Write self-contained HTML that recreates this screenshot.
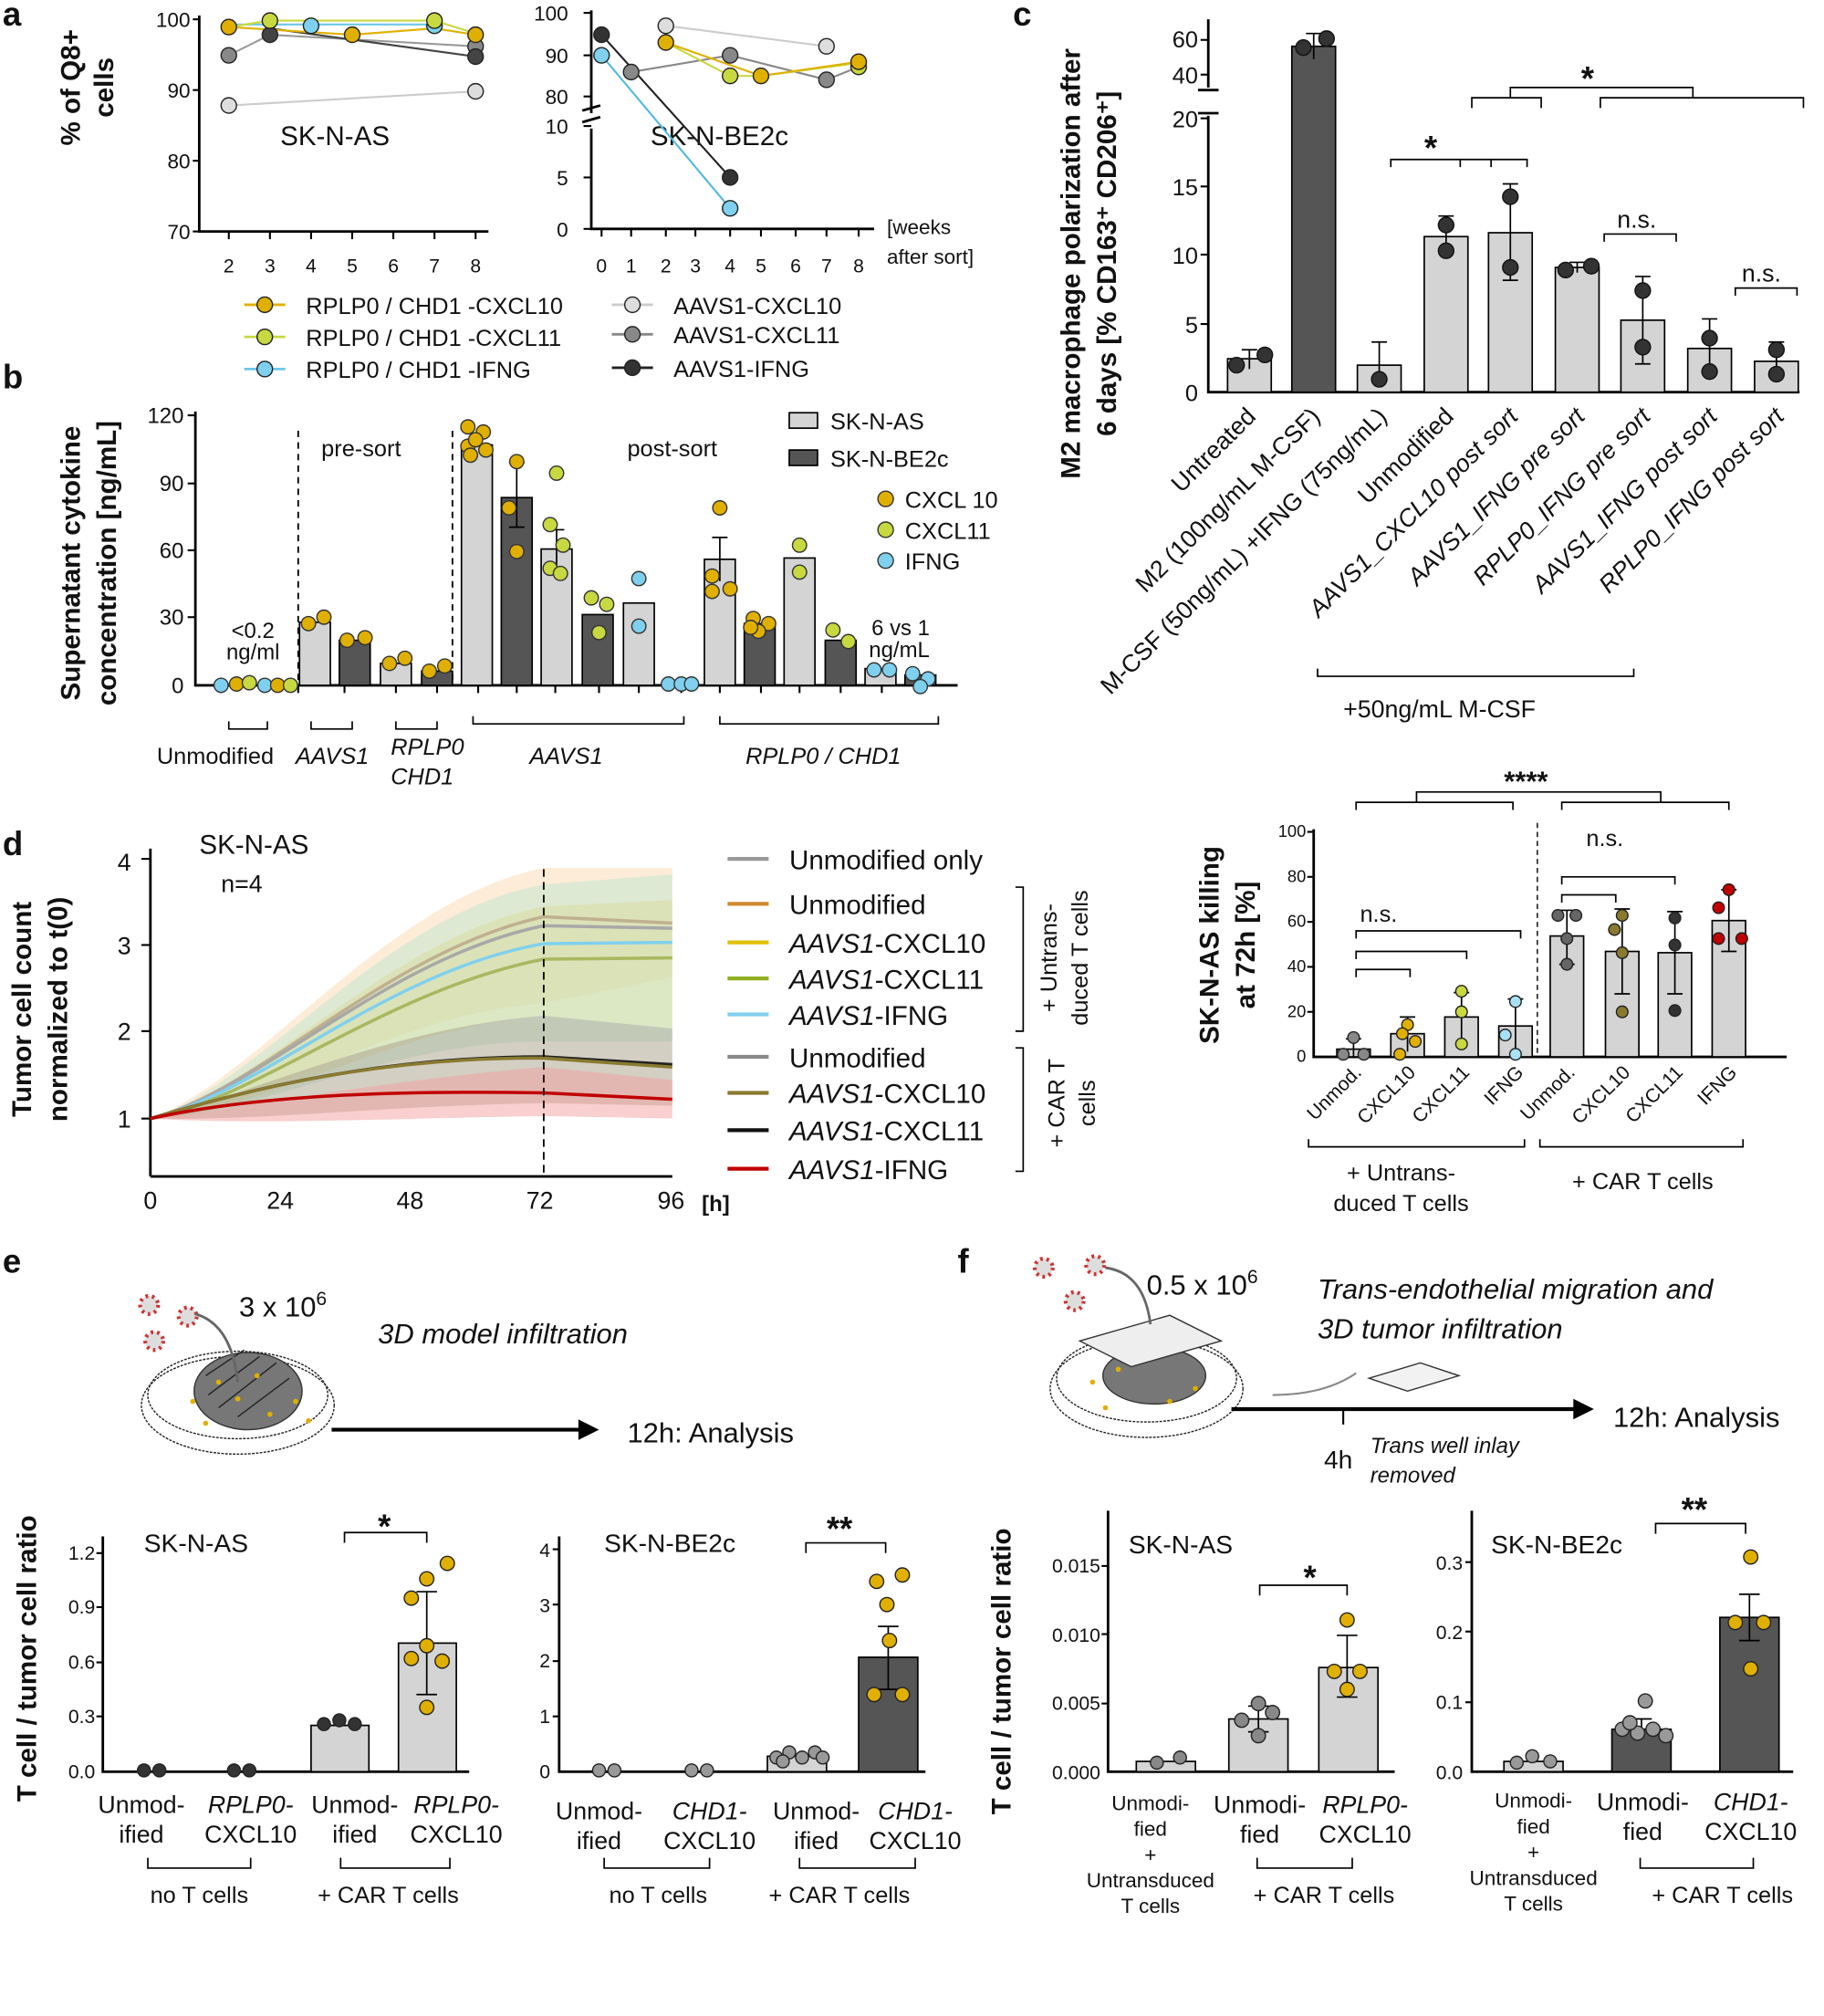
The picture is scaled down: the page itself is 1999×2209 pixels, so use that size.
<!DOCTYPE html>
<html><head><meta charset="utf-8"><style>
html,body{margin:0;padding:0;background:#fff}
svg{display:block}
text{font-family:"Liberation Sans Narrow","Liberation Sans",sans-serif;fill:#111}
.b{font-weight:bold;font-family:"Liberation Sans",sans-serif}
.ax{stroke:#000;stroke-width:2;fill:none}
.tk{stroke:#000;stroke-width:1.5}
.bar{fill:#d4d4d4;stroke:#000;stroke-width:1.2}
.dbar{fill:#555;stroke:#000;stroke-width:1.2}
.er{stroke:#000;stroke-width:1.2;fill:none}
.br{stroke:#000;stroke-width:1.2;fill:none}
</style></head><body>
<svg width="1999" height="2209" viewBox="0 0 1419 1568" xmlns="http://www.w3.org/2000/svg">
<!-- panel letters -->
<text x="2" y="20" class="b" font-size="26">a</text>
<text x="2" y="302" class="b" font-size="26">b</text>
<text x="788" y="20" class="b" font-size="26">c</text>
<text x="2" y="665" class="b" font-size="26">d</text>
<text x="2" y="990" class="b" font-size="26">e</text>
<text x="745" y="990" class="b" font-size="26">f</text>

<!-- ===== a left ===== -->
<text class="b" font-size="21" transform="translate(62,68) rotate(-90)" text-anchor="middle">% of Q8+</text>
<text class="b" font-size="21" transform="translate(88,68) rotate(-90)" text-anchor="middle">cells</text>
<path class="ax" d="M155 12 V180 H380"/>
<g font-size="16" text-anchor="end"><text x="148" y="21">100</text><text x="148" y="76">90</text><text x="148" y="131">80</text><text x="148" y="186">70</text></g>
<g class="tk"><line x1="150" y1="15" x2="155" y2="15"/><line x1="150" y1="70" x2="155" y2="70"/><line x1="150" y1="125" x2="155" y2="125"/><line x1="150" y1="180" x2="155" y2="180"/></g>
<g font-size="15" text-anchor="middle"><text x="178" y="212">2</text><text x="210" y="212">3</text><text x="242" y="212">4</text><text x="274" y="212">5</text><text x="306" y="212">6</text><text x="338" y="212">7</text><text x="370" y="212">8</text></g>
<g class="tk"><line x1="178" y1="180" x2="178" y2="186"/><line x1="210" y1="180" x2="210" y2="186"/><line x1="242" y1="180" x2="242" y2="186"/><line x1="274" y1="180" x2="274" y2="186"/><line x1="306" y1="180" x2="306" y2="186"/><line x1="338" y1="180" x2="338" y2="186"/><line x1="370" y1="180" x2="370" y2="186"/></g>
<text x="218" y="113" font-size="21">SK-N-AS</text>
<g stroke-width="1.5" fill="none">
<polyline points="178,82 370,71" stroke="#ccc"/>
<polyline points="178,43 210,27 370,36" stroke="#999"/>
<polyline points="210,22 370,44" stroke="#444"/>
<polyline points="178,19 338,19" stroke="#6cc8e8"/>
<polyline points="178,21 210,16 338,16 370,26" stroke="#c8d840"/>
<polyline points="178,21 274,27 338,22 370,27" stroke="#e0b000"/>
</g>
<g stroke="#222" stroke-width="1">
<circle cx="178" cy="82" r="6" fill="#ddd"/><circle cx="370" cy="71" r="6" fill="#ddd"/>
<circle cx="178" cy="43" r="6" fill="#888"/><circle cx="370" cy="36" r="6" fill="#888"/>
<circle cx="210" cy="27" r="6" fill="#444"/><circle cx="370" cy="44" r="6" fill="#444"/>
<circle cx="242" cy="20" r="6" fill="#7fd0ef"/><circle cx="338" cy="20" r="6" fill="#7fd0ef"/>
<circle cx="210" cy="16" r="6" fill="#c8d840"/><circle cx="338" cy="16" r="6" fill="#c8d840"/>
<circle cx="178" cy="21" r="6" fill="#e0b000"/><circle cx="274" cy="27" r="6" fill="#e0b000"/><circle cx="370" cy="27" r="6" fill="#e0b000"/>
</g>
<!-- a right -->
<path class="ax" d="M460 8 V88 M460 100 V178 H680"/>
<path d="M453 86 l14 -4 M453 95 l14 -4" stroke="#000" stroke-width="2"/>
<g font-size="16" text-anchor="end"><text x="442" y="16">100</text><text x="442" y="49">90</text><text x="442" y="81">80</text><text x="442" y="104">10</text><text x="442" y="144">5</text><text x="442" y="184">0</text></g>
<g class="tk"><line x1="454" y1="10" x2="460" y2="10"/><line x1="454" y1="43" x2="460" y2="43"/><line x1="454" y1="75" x2="460" y2="75"/><line x1="454" y1="98" x2="460" y2="98"/><line x1="454" y1="138" x2="460" y2="138"/><line x1="454" y1="178" x2="460" y2="178"/></g>
<g font-size="15" text-anchor="middle"><text x="468" y="212">0</text><text x="491" y="212">1</text><text x="518" y="212">2</text><text x="541" y="212">3</text><text x="568" y="212">4</text><text x="592" y="212">5</text><text x="619" y="212">6</text><text x="643" y="212">7</text><text x="668" y="212">8</text></g>
<g class="tk"><line x1="468" y1="178" x2="468" y2="184"/><line x1="491" y1="178" x2="491" y2="184"/><line x1="518" y1="178" x2="518" y2="184"/><line x1="541" y1="178" x2="541" y2="184"/><line x1="568" y1="178" x2="568" y2="184"/><line x1="592" y1="178" x2="592" y2="184"/><line x1="619" y1="178" x2="619" y2="184"/><line x1="643" y1="178" x2="643" y2="184"/><line x1="668" y1="178" x2="668" y2="184"/></g>
<text x="690" y="182" font-size="16">[weeks</text><text x="690" y="205" font-size="16">after sort]</text>
<text x="506" y="113" font-size="21">SK-N-BE2c</text>
<g stroke-width="1.5" fill="none">
<polyline points="518,20 643,36" stroke="#ccc"/>
<polyline points="491,56 568,43 643,62 668,52" stroke="#888"/>
<polyline points="468,27 568,138" stroke="#222"/>
<polyline points="468,43 568,162" stroke="#50b8e0"/>
<polyline points="518,33 568,59 592,59 668,49" stroke="#c8d840"/>
<polyline points="518,33 592,59 668,48" stroke="#e0b000"/>
</g>
<g stroke="#222" stroke-width="1">
<circle cx="518" cy="20" r="6" fill="#ddd"/><circle cx="643" cy="36" r="6" fill="#ddd"/>
<circle cx="491" cy="56" r="6" fill="#888"/><circle cx="568" cy="43" r="6" fill="#888"/><circle cx="643" cy="62" r="6" fill="#888"/>
<circle cx="468" cy="27" r="6" fill="#333"/><circle cx="568" cy="138" r="6" fill="#333"/>
<circle cx="468" cy="43" r="6" fill="#7fd0ef"/><circle cx="568" cy="162" r="6" fill="#7fd0ef"/>
<circle cx="568" cy="59" r="6" fill="#c8d840"/><circle cx="668" cy="52" r="6" fill="#c8d840"/>
<circle cx="518" cy="33" r="6" fill="#e0b000"/><circle cx="592" cy="59" r="6" fill="#e0b000"/><circle cx="668" cy="48" r="6" fill="#e0b000"/>
</g>
<!-- a legend -->
<g font-size="18">
<line x1="190" y1="237" x2="222" y2="237" stroke="#e0b000" stroke-width="2"/><circle cx="206" cy="237" r="6" fill="#e0b000" stroke="#222"/><text x="238" y="244">RPLP0 / CHD1 -CXCL10</text>
<line x1="190" y1="262" x2="222" y2="262" stroke="#c8d840" stroke-width="2"/><circle cx="206" cy="262" r="6" fill="#c8d840" stroke="#222"/><text x="238" y="269">RPLP0 / CHD1 -CXCL11</text>
<line x1="190" y1="287" x2="222" y2="287" stroke="#6cc8e8" stroke-width="2"/><circle cx="206" cy="287" r="6" fill="#7fd0ef" stroke="#222"/><text x="238" y="294">RPLP0 / CHD1 -IFNG</text>
<line x1="476" y1="237" x2="508" y2="237" stroke="#ccc" stroke-width="2"/><circle cx="492" cy="237" r="6" fill="#ddd" stroke="#222"/><text x="524" y="244">AAVS1-CXCL10</text>
<line x1="476" y1="260" x2="508" y2="260" stroke="#888" stroke-width="2"/><circle cx="492" cy="260" r="6" fill="#888" stroke="#222"/><text x="524" y="267">AAVS1-CXCL11</text>
<line x1="476" y1="286" x2="508" y2="286" stroke="#222" stroke-width="2"/><circle cx="492" cy="286" r="6" fill="#333" stroke="#222"/><text x="524" y="293">AAVS1-IFNG</text>
</g>

<!-- ===== b ===== -->
<text class="b" font-size="21" transform="translate(62,438) rotate(-90)" text-anchor="middle">Supernatant cytokine</text>
<text class="b" font-size="21" transform="translate(90,438) rotate(-90)" text-anchor="middle">concentration [ng/mL]</text>
<path class="ax" d="M152 320 V533 H745"/>
<g font-size="17" text-anchor="end"><text x="143" y="329">120</text><text x="143" y="382">90</text><text x="143" y="434">60</text><text x="143" y="486">30</text><text x="143" y="539">0</text></g>
<g class="tk"><line x1="146" y1="323" x2="152" y2="323"/><line x1="146" y1="376" x2="152" y2="376"/><line x1="146" y1="428" x2="152" y2="428"/><line x1="146" y1="480" x2="152" y2="480"/></g>
<g class="tk"><line x1="172" y1="533" x2="172" y2="539"/><line x1="232" y1="533" x2="232" y2="539"/><line x1="268" y1="533" x2="268" y2="539"/><line x1="308" y1="533" x2="308" y2="539"/><line x1="340" y1="533" x2="340" y2="539"/><line x1="372" y1="533" x2="372" y2="539"/><line x1="402" y1="533" x2="402" y2="539"/><line x1="432" y1="533" x2="432" y2="539"/><line x1="466" y1="533" x2="466" y2="539"/><line x1="497" y1="533" x2="497" y2="539"/><line x1="530" y1="533" x2="530" y2="539"/><line x1="560" y1="533" x2="560" y2="539"/><line x1="592" y1="533" x2="592" y2="539"/><line x1="622" y1="533" x2="622" y2="539"/><line x1="654" y1="533" x2="654" y2="539"/><line x1="686" y1="533" x2="686" y2="539"/><line x1="716" y1="533" x2="716" y2="539"/></g>
<line x1="232" y1="335" x2="232" y2="533" stroke="#000" stroke-dasharray="5,4" stroke-width="1.3"/>
<line x1="352" y1="335" x2="352" y2="533" stroke="#000" stroke-dasharray="5,4" stroke-width="1.3"/>
<text x="250" y="355" font-size="18">pre-sort</text><text x="488" y="355" font-size="18">post-sort</text>
<text x="180" y="496" font-size="17">&lt;0.2</text><text x="176" y="513" font-size="17">ng/ml</text>
<text x="678" y="494" font-size="17">6 vs 1</text><text x="676" y="511" font-size="17">ng/mL</text>
<rect class="bar" x="233" y="484" width="24" height="49"/>
<rect class="dbar" x="264" y="498" width="24" height="35"/>
<rect class="bar" x="296" y="516" width="24" height="17"/>
<rect class="dbar" x="328" y="522" width="24" height="11"/>
<rect class="bar" x="359" y="346" width="24" height="187"/>
<rect class="dbar" x="390" y="387" width="24" height="146"/>
<rect class="bar" x="421" y="427" width="24" height="106"/>
<rect class="dbar" x="453" y="478" width="24" height="55"/>
<rect class="bar" x="485" y="469" width="24" height="64"/>
<rect class="bar" x="548" y="435" width="24" height="98"/>
<rect class="dbar" x="579" y="485" width="24" height="48"/>
<rect class="bar" x="610" y="434" width="24" height="99"/>
<rect class="dbar" x="642" y="498" width="24" height="35"/>
<rect class="bar" x="673" y="520" width="24" height="13"/>
<rect class="dbar" x="704" y="525" width="24" height="8"/>
<g class="er"><path d="M402 360 V410 M396 360 h12 M396 410 h12 M433 412 V440 M427 412 h12 M560 418 V452 M554 418 h12 M560 452 h0"/></g>
<g stroke="#333" stroke-width="1">
<circle cx="172" cy="533" r="5.5" fill="#7fd0ef"/><circle cx="184" cy="532" r="5.5" fill="#e0b000"/><circle cx="194" cy="531" r="5.5" fill="#c8d840"/><circle cx="206" cy="533" r="5.5" fill="#7fd0ef"/><circle cx="216" cy="533" r="5.5" fill="#e0b000"/><circle cx="226" cy="533" r="5.5" fill="#c8d840"/>
<circle cx="240" cy="485" r="5.5" fill="#e0b000"/><circle cx="252" cy="480" r="5.5" fill="#e0b000"/>
<circle cx="270" cy="498" r="5.5" fill="#e0b000"/><circle cx="284" cy="496" r="5.5" fill="#e0b000"/>
<circle cx="303" cy="516" r="5.5" fill="#e0b000"/><circle cx="315" cy="512" r="5.5" fill="#e0b000"/>
<circle cx="334" cy="522" r="5.5" fill="#e0b000"/><circle cx="346" cy="518" r="5.5" fill="#e0b000"/>
<circle cx="364" cy="332" r="5.5" fill="#e0b000"/><circle cx="376" cy="336" r="5.5" fill="#e0b000"/><circle cx="364" cy="347" r="5.5" fill="#e0b000"/><circle cx="378" cy="350" r="5.5" fill="#e0b000"/><circle cx="370" cy="342" r="5.5" fill="#e0b000"/><circle cx="366" cy="354" r="5.5" fill="#e0b000"/>
<circle cx="402" cy="359" r="5.5" fill="#e0b000"/><circle cx="396" cy="395" r="5.5" fill="#e0b000"/><circle cx="402" cy="429" r="5.5" fill="#e0b000"/>
<circle cx="433" cy="368" r="5.5" fill="#c8d840"/><circle cx="428" cy="408" r="5.5" fill="#c8d840"/><circle cx="438" cy="424" r="5.5" fill="#c8d840"/><circle cx="428" cy="442" r="5.5" fill="#c8d840"/><circle cx="436" cy="446" r="5.5" fill="#c8d840"/>
<circle cx="460" cy="465" r="5.5" fill="#c8d840"/><circle cx="472" cy="470" r="5.5" fill="#c8d840"/><circle cx="466" cy="492" r="5.5" fill="#c8d840"/>
<circle cx="497" cy="450" r="5.5" fill="#7fd0ef"/><circle cx="497" cy="487" r="5.5" fill="#7fd0ef"/>
<circle cx="520" cy="532" r="5.5" fill="#7fd0ef"/><circle cx="530" cy="532" r="5.5" fill="#7fd0ef"/><circle cx="538" cy="532" r="5.5" fill="#7fd0ef"/>
<circle cx="560" cy="395" r="5.5" fill="#e0b000"/><circle cx="554" cy="448" r="5.5" fill="#e0b000"/><circle cx="568" cy="458" r="5.5" fill="#e0b000"/><circle cx="554" cy="460" r="5.5" fill="#e0b000"/>
<circle cx="586" cy="481" r="5.5" fill="#e0b000"/><circle cx="598" cy="485" r="5.5" fill="#e0b000"/><circle cx="590" cy="491" r="5.5" fill="#e0b000"/><circle cx="584" cy="488" r="5.5" fill="#e0b000"/>
<circle cx="622" cy="424" r="5.5" fill="#c8d840"/><circle cx="622" cy="445" r="5.5" fill="#c8d840"/>
<circle cx="648" cy="490" r="5.5" fill="#c8d840"/><circle cx="660" cy="499" r="5.5" fill="#c8d840"/>
<circle cx="680" cy="521" r="5.5" fill="#7fd0ef"/><circle cx="692" cy="521" r="5.5" fill="#7fd0ef"/>
<circle cx="710" cy="524" r="5.5" fill="#7fd0ef"/><circle cx="722" cy="528" r="5.5" fill="#7fd0ef"/><circle cx="716" cy="534" r="5.5" fill="#7fd0ef"/>
</g>
<g font-size="18">
<rect x="614" y="321" width="22" height="12" class="bar"/><text x="646" y="334">SK-N-AS</text>
<rect x="614" y="350" width="22" height="12" class="dbar"/><text x="646" y="363">SK-N-BE2c</text>
<circle cx="689" cy="388" r="6" fill="#e0b000" stroke="#333"/><text x="704" y="395">CXCL 10</text>
<circle cx="689" cy="412" r="6" fill="#c8d840" stroke="#333"/><text x="704" y="419">CXCL11</text>
<circle cx="689" cy="436" r="6" fill="#7fd0ef" stroke="#333"/><text x="704" y="443">IFNG</text>
</g>
<g class="br"><path d="M178 561 v6 h30 v-6 M242 561 v6 h32 v-6 M308 561 v6 h32 v-6 M368 557 v6 h164 v-6 M560 557 v6 h170 v-6"/></g>
<g font-size="18"><text x="122" y="594">Unmodified</text><text x="230" y="594" font-style="italic">AAVS1</text><text x="304" y="587" font-style="italic">RPLP0</text><text x="304" y="610" font-style="italic">CHD1</text><text x="412" y="594" font-style="italic">AAVS1</text><text x="580" y="594" font-style="italic">RPLP0 / CHD1</text></g>

<!-- ===== c ===== -->
<text class="b" font-size="21" transform="translate(840,205) rotate(-90)" text-anchor="middle">M2 macrophage polarization after</text>
<text class="b" font-size="21" transform="translate(868,205) rotate(-90)" text-anchor="middle">6 days [% CD163⁺ CD206⁺]</text>
<path class="ax" d="M940 15 V68 M940 90 V305 H1400"/>
<path d="M932 70 h16 M932 88 h16" stroke="#000" stroke-width="2"/>
<g font-size="18" text-anchor="end"><text x="932" y="37">60</text><text x="932" y="65">40</text><text x="932" y="99">20</text><text x="932" y="152">15</text><text x="932" y="205">10</text><text x="932" y="259">5</text><text x="932" y="312">0</text></g>
<g class="tk"><line x1="934" y1="31" x2="940" y2="31"/><line x1="934" y1="58" x2="940" y2="58"/><line x1="934" y1="92" x2="940" y2="92"/><line x1="934" y1="145" x2="940" y2="145"/><line x1="934" y1="198" x2="940" y2="198"/><line x1="934" y1="252" x2="940" y2="252"/></g>
<rect class="bar" x="955" y="279" width="34" height="26"/>
<rect class="dbar" x="1005" y="36" width="34" height="269"/>
<rect class="bar" x="1056" y="284" width="34" height="21"/>
<rect class="bar" x="1108" y="184" width="34" height="121"/>
<rect class="bar" x="1158" y="181" width="34" height="124"/>
<rect class="bar" x="1210" y="208" width="34" height="97"/>
<rect class="bar" x="1261" y="249" width="34" height="56"/>
<rect class="bar" x="1313" y="271" width="34" height="34"/>
<rect class="bar" x="1365" y="281" width="34" height="24"/>
<g class="er"><path d="M972 272 V287 M966 272 h12 M1022 26 V46 M1016 26 h12 M1073 266 V300 M1067 266 h12 M1125 168 V200 M1119 168 h12 M1175 143 V218 M1169 143 h12 M1169 218 h12 M1227 204 V212 M1221 204 h12 M1278 215 V283 M1272 215 h12 M1272 283 h12 M1330 248 V294 M1324 248 h12 M1382 266 V296 M1376 266 h12"/></g>
<g stroke="#111" fill="#333">
<circle cx="962" cy="284" r="6"/><circle cx="984" cy="276" r="6"/>
<circle cx="1014" cy="37" r="6"/><circle cx="1032" cy="30" r="6"/>
<circle cx="1073" cy="295" r="6"/><circle cx="1073" cy="270"/>
<circle cx="1125" cy="195" r="6"/><circle cx="1125" cy="175" r="6"/>
<circle cx="1175" cy="208" r="6"/><circle cx="1175" cy="153" r="6"/>
<circle cx="1218" cy="210" r="6"/><circle cx="1238" cy="207" r="6"/>
<circle cx="1278" cy="226" r="6"/><circle cx="1278" cy="270" r="6"/>
<circle cx="1330" cy="263" r="6"/><circle cx="1330" cy="289" r="6"/>
<circle cx="1382" cy="272" r="6"/><circle cx="1382" cy="291" r="6"/>
</g>
<g class="br"><path d="M1082 130 v-6 h78 v6 M1136 130 v-6 h52 v6 M1160 124 v0 M1145 84 v-8 h54 v8 M1175 76 v-8 h142 v8 M1245 84 v-8 h158 v8 M1248 188 v-6 h56 v6 M1350 230 v-6 h48 v6 M1025 520 v6 h246 v-6"/></g>
<text x="1108" y="124" font-size="26" class="b">*</text>
<text x="1230" y="70" font-size="26" class="b">*</text>
<text x="1258" y="177" font-size="19">n.s.</text>
<text x="1355" y="219" font-size="19">n.s.</text>
<text x="1045" y="558" font-size="19">+50ng/mL M-CSF</text>
<g font-size="19" text-anchor="end">
<text transform="translate(978,325) rotate(-45)">Untreated</text>
<text transform="translate(1028,325) rotate(-45)">M2 (100ng/mL M-CSF)</text>
<text transform="translate(1080,325) rotate(-45)">M-CSF (50ng/mL) +IFNG (75ng/mL)</text>
<text transform="translate(1132,325) rotate(-45)">Unmodified</text>
<text transform="translate(1182,325) rotate(-45)" font-style="italic">AAVS1_CXCL10 post sort</text>
<text transform="translate(1234,325) rotate(-45)" font-style="italic">AAVS1_IFNG pre sort</text>
<text transform="translate(1285,325) rotate(-45)" font-style="italic">RPLP0_IFNG pre sort</text>
<text transform="translate(1337,325) rotate(-45)" font-style="italic">AAVS1_IFNG post sort</text>
<text transform="translate(1389,325) rotate(-45)" font-style="italic">RPLP0_IFNG post sort</text>
</g>

<!-- ===== d ===== -->
<text class="b" font-size="21" transform="translate(24,785) rotate(-90)" text-anchor="middle">Tumor cell count</text>
<text class="b" font-size="21" transform="translate(52,785) rotate(-90)" text-anchor="middle">normalized to t(0)</text>
<path class="ax" d="M117 660 V915 M117 915 H523"/>
<g font-size="19" text-anchor="end"><text x="102" y="677">4</text><text x="102" y="742">3</text><text x="102" y="809">2</text><text x="102" y="877">1</text></g>
<g class="tk"><line x1="110" y1="668" x2="117" y2="668"/><line x1="110" y1="735" x2="117" y2="735"/><line x1="110" y1="802" x2="117" y2="802"/><line x1="110" y1="870" x2="117" y2="870"/></g>
<g font-size="19" text-anchor="middle"><text x="117" y="940">0</text><text x="218" y="940">24</text><text x="319" y="940">48</text><text x="420" y="940">72</text><text x="522" y="940">96</text></g>
<text x="546" y="942" font-size="17" class="b">[h]</text>
<text x="155" y="664" font-size="21">SK-N-AS</text><text x="172" y="694" font-size="19">n=4</text>
<!-- bands -->
<path d="M117 870 C200 840 300 700 423 675 L523 675 L523 760 L423 780 C300 790 200 865 117 870Z" fill="#fbd9b0" opacity=".5"/>
<path d="M117 870 C200 845 300 710 423 688 L523 680 L523 810 L423 810 C300 810 200 868 117 870Z" fill="#bfe6d0" opacity=".5"/>
<path d="M117 870 C200 850 300 730 423 705 L523 700 L523 800 L423 790 C300 800 200 868 117 870Z" fill="#d8d890" opacity=".4"/>
<path d="M117 870 C200 850 300 800 423 790 L523 800 L523 860 L423 858 C300 860 200 872 117 870Z" fill="#a8a088" opacity=".5"/>
<path d="M117 870 C200 860 300 840 423 830 L523 840 L523 870 L423 868 C300 870 200 875 117 870Z" fill="#f4a0a0" opacity=".5"/>
<g fill="none" stroke-width="2.5">
<path d="M117 870 C200 850 300 740 423 713 L523 718" stroke="#c0b090"/>
<path d="M117 870 C200 850 300 745 423 720 L523 722" stroke="#a8a8a8"/>
<path d="M117 870 C200 852 300 755 423 734 L523 733" stroke="#80d0ee"/>
<path d="M117 870 C200 855 300 770 423 746 L523 745" stroke="#a8b860"/>
<path d="M117 870 C200 845 300 822 423 822 L523 828" stroke="#222"/>
<path d="M117 870 C200 845 300 822 423 823 L523 830" stroke="#8a7a30"/>
<path d="M117 870 C200 852 300 848 423 850 L523 855" stroke="#c00000"/>
</g>
<line x1="423" y1="676" x2="423" y2="915" stroke="#000" stroke-dasharray="6,4" stroke-width="1.3"/>
<g font-size="21">
<line x1="566" y1="668" x2="598" y2="668" stroke="#999" stroke-width="3"/><text x="614" y="676">Unmodified only</text>
<line x1="566" y1="703" x2="598" y2="703" stroke="#d08830" stroke-width="3"/><text x="614" y="711">Unmodified</text>
<line x1="566" y1="733" x2="598" y2="733" stroke="#e0c000" stroke-width="3"/><text x="614" y="741" font-style="italic">AAVS1<tspan font-style="normal">-CXCL10</tspan></text>
<line x1="566" y1="761" x2="598" y2="761" stroke="#90b020" stroke-width="3"/><text x="614" y="769" font-style="italic">AAVS1<tspan font-style="normal">-CXCL11</tspan></text>
<line x1="566" y1="789" x2="598" y2="789" stroke="#80d0ee" stroke-width="3"/><text x="614" y="797" font-style="italic">AAVS1<tspan font-style="normal">-IFNG</tspan></text>
<line x1="566" y1="822" x2="598" y2="822" stroke="#888" stroke-width="3"/><text x="614" y="830">Unmodified</text>
<line x1="566" y1="850" x2="598" y2="850" stroke="#8a7a30" stroke-width="3"/><text x="614" y="858" font-style="italic">AAVS1<tspan font-style="normal">-CXCL10</tspan></text>
<line x1="566" y1="879" x2="598" y2="879" stroke="#111" stroke-width="3"/><text x="614" y="887" font-style="italic">AAVS1<tspan font-style="normal">-CXCL11</tspan></text>
<line x1="566" y1="909" x2="598" y2="909" stroke="#c00000" stroke-width="3"/><text x="614" y="917" font-style="italic">AAVS1<tspan font-style="normal">-IFNG</tspan></text>
</g>
<path class="br" d="M790 690 h6 v112 h-6 M790 815 h6 v96 h-6"/>
<text font-size="18" text-anchor="middle" transform="translate(822,745) rotate(-90)">+ Untrans-</text>
<text font-size="18" text-anchor="middle" transform="translate(846,745) rotate(-90)">duced T cells</text>
<text font-size="18" text-anchor="middle" transform="translate(828,858) rotate(-90)">+ CAR T</text>
<text font-size="18" text-anchor="middle" transform="translate(852,858) rotate(-90)">cells</text>

<!-- killing -->
<text class="b" font-size="21" transform="translate(948,735) rotate(-90)" text-anchor="middle">SK-N-AS killing</text>
<text class="b" font-size="21" transform="translate(976,735) rotate(-90)" text-anchor="middle">at 72h [%]</text>
<path class="ax" d="M1022 645 V822 H1390"/>
<g font-size="13" text-anchor="end"><text x="1016" y="651">100</text><text x="1016" y="686">80</text><text x="1016" y="721">60</text><text x="1016" y="756">40</text><text x="1016" y="791">20</text><text x="1016" y="826">0</text></g>
<g class="tk"><line x1="1017" y1="647" x2="1022" y2="647"/><line x1="1017" y1="682" x2="1022" y2="682"/><line x1="1017" y1="717" x2="1022" y2="717"/><line x1="1017" y1="752" x2="1022" y2="752"/><line x1="1017" y1="787" x2="1022" y2="787"/></g>
<line x1="1196" y1="640" x2="1196" y2="822" stroke="#000" stroke-dasharray="4,3"/>
<rect class="bar" x="1040" y="816" width="26" height="6"/>
<rect class="bar" x="1082" y="804" width="26" height="18"/>
<rect class="bar" x="1124" y="791" width="26" height="31"/>
<rect class="bar" x="1166" y="798" width="26" height="24"/>
<rect class="bar" x="1206" y="728" width="26" height="94"/>
<rect class="bar" x="1249" y="740" width="26" height="82"/>
<rect class="bar" x="1290" y="741" width="26" height="81"/>
<rect class="bar" x="1332" y="716" width="26" height="106"/>
<g class="er"><path d="M1053 808 V822 M1047 808 h12 M1095 791 V818 M1089 791 h12 M1137 772 V810 M1131 772 h12 M1179 777 V822 M1173 777 h12 M1219 708 V750 M1213 708 h12 M1213 750 h12 M1262 707 V773 M1256 707 h12 M1256 773 h12 M1303 709 V773 M1297 709 h12 M1297 773 h12 M1345 692 V740 M1339 692 h12 M1339 740 h12"/></g>
<g stroke="#222" stroke-width="1">
<circle cx="1045" cy="820" r="4.5" fill="#888"/><circle cx="1053" cy="807" r="4.5" fill="#888"/><circle cx="1061" cy="820" r="4.5" fill="#888"/>
<circle cx="1089" cy="820" r="4.5" fill="#e0b000"/><circle cx="1095" cy="797" r="4.5" fill="#e0b000"/><circle cx="1101" cy="810" r="4.5" fill="#e0b000"/><circle cx="1091" cy="804" r="4.5" fill="#e0b000"/>
<circle cx="1137" cy="771" r="4.5" fill="#c8d840"/><circle cx="1137" cy="787" r="4.5" fill="#c8d840"/><circle cx="1137" cy="812" r="4.5" fill="#c8d840"/>
<circle cx="1179" cy="779" r="4.5" fill="#a8e0f4"/><circle cx="1179" cy="820" r="4.5" fill="#a8e0f4"/><circle cx="1171" cy="805" r="4.5" fill="#a8e0f4"/>
<circle cx="1212" cy="712" r="4.5" fill="#666"/><circle cx="1226" cy="712" r="4.5" fill="#666"/><circle cx="1219" cy="750" r="4.5" fill="#666"/><circle cx="1219" cy="730" r="4.5" fill="#666"/>
<circle cx="1262" cy="712" r="4.5" fill="#8a7a30"/><circle cx="1262" cy="741" r="4.5" fill="#8a7a30"/><circle cx="1262" cy="787" r="4.5" fill="#8a7a30"/><circle cx="1256" cy="723" r="4.5" fill="#8a7a30"/>
<circle cx="1303" cy="714" r="4.5" fill="#333"/><circle cx="1303" cy="735" r="4.5" fill="#333"/><circle cx="1303" cy="786" r="4.5" fill="#333"/>
<circle cx="1345" cy="692" r="4.5" fill="#c00000"/><circle cx="1337" cy="706" r="4.5" fill="#c00000"/><circle cx="1337" cy="730" r="4.5" fill="#c00000"/><circle cx="1355" cy="730" r="4.5" fill="#c00000"/>
</g>
<g class="br"><path d="M1055 630 v-6 h122 v6 M1102 624 v-8 h190 v8 M1215 630 v-6 h130 v6 M1055 730 v-6 h128 v6 M1055 746 v-6 h86 v6 M1055 760 v-6 h42 v6 M1215 688 v-6 h88 v6 M1215 702 v-6 h42 v6 M1018 886 v6 h168 v-6 M1198 886 v6 h158 v-6"/></g>
<text x="1170" y="615" font-size="22" class="b">****</text>
<text x="1058" y="717" font-size="18">n.s.</text>
<text x="1234" y="658" font-size="18">n.s.</text>
<g font-size="15" text-anchor="end">
<text transform="translate(1060,835) rotate(-45)">Unmod.</text><text transform="translate(1102,835) rotate(-45)">CXCL10</text><text transform="translate(1144,835) rotate(-45)">CXCL11</text><text transform="translate(1186,835) rotate(-45)">IFNG</text>
<text transform="translate(1226,835) rotate(-45)">Unmod.</text><text transform="translate(1269,835) rotate(-45)">CXCL10</text><text transform="translate(1310,835) rotate(-45)">CXCL11</text><text transform="translate(1352,835) rotate(-45)">IFNG</text>
</g>
<g font-size="18" text-anchor="middle"><text x="1090" y="918">+ Untrans-</text><text x="1090" y="942">duced T cells</text><text x="1278" y="925">+ CAR T cells</text></g>

<!-- ===== e schematic ===== -->
<g>
<ellipse cx="185" cy="1093" rx="75" ry="38" fill="none" stroke="#222" stroke-dasharray="2,1"/>
<ellipse cx="185" cy="1085" rx="70" ry="34" fill="none" stroke="#222" stroke-dasharray="2,1"/>
<ellipse cx="193" cy="1082" rx="42" ry="30" fill="#777" stroke="#333"/>
<path d="M160 1070 l30 -20 M162 1085 l40 -30 M170 1095 l45 -35 M185 1102 l40 -30" stroke="#222"/>
<g fill="#e0b000"><circle cx="150" cy="1090" r="2"/><circle cx="170" cy="1075" r="2"/><circle cx="200" cy="1070" r="2"/><circle cx="230" cy="1090" r="2"/><circle cx="160" cy="1107" r="2"/><circle cx="210" cy="1100" r="2"/><circle cx="240" cy="1105" r="2"/><circle cx="185" cy="1088" r="2"/></g>
<circle cx="116" cy="1015" r="7" fill="#ddd" stroke="#c33" stroke-dasharray="2,3" stroke-width="3"/>
<circle cx="146" cy="1024" r="7" fill="#ddd" stroke="#c33" stroke-dasharray="2,3" stroke-width="3"/>
<circle cx="120" cy="1043" r="7" fill="#ddd" stroke="#c33" stroke-dasharray="2,3" stroke-width="3"/>
<path d="M152 1022 Q180 1030 185 1075" fill="none" stroke="#666" stroke-width="2"/>
<path d="M258 1112 H455" stroke="#000" stroke-width="3"/><path d="M450 1104 l16 8 l-16 8z" fill="#000"/>
<text x="186" y="1024" font-size="22">3 x 10<tspan font-size="15" dy="-9">6</tspan></text>
<text x="294" y="1045" font-size="22" font-style="italic">3D model infiltration</text>
<text x="488" y="1122" font-size="22">12h: Analysis</text>
</g>
<!-- f schematic -->
<g>
<ellipse cx="892" cy="1080" rx="75" ry="38" fill="none" stroke="#222" stroke-dasharray="2,1"/>
<ellipse cx="892" cy="1072" rx="70" ry="34" fill="none" stroke="#222" stroke-dasharray="2,1"/>
<ellipse cx="898" cy="1070" rx="40" ry="22" fill="#777" stroke="#333"/>
<path d="M840 1043 l70 -20 l40 20 l-70 20z" fill="#eee" stroke="#333"/>
<g fill="#e0b000"><circle cx="850" cy="1075" r="2"/><circle cx="870" cy="1065" r="2"/><circle cx="930" cy="1080" r="2"/><circle cx="860" cy="1095" r="2"/><circle cx="910" cy="1090" r="2"/></g>
<circle cx="812" cy="986" r="7" fill="#ddd" stroke="#c33" stroke-dasharray="2,3" stroke-width="3"/>
<circle cx="852" cy="984" r="7" fill="#ddd" stroke="#c33" stroke-dasharray="2,3" stroke-width="3"/>
<circle cx="836" cy="1012" r="7" fill="#ddd" stroke="#c33" stroke-dasharray="2,3" stroke-width="3"/>
<path d="M860 986 Q890 990 895 1030" fill="none" stroke="#666" stroke-width="2"/>
<path d="M990 1085 Q1030 1085 1055 1068" fill="none" stroke="#888" stroke-width="1.5"/>
<path d="M1065 1072 l40 -12 l30 10 l-40 12z" fill="#f2f2f2" stroke="#333"/>
<path d="M958 1096 H1228" stroke="#000" stroke-width="3"/><path d="M1224 1088 l16 8 l-16 8z" fill="#000"/>
<line x1="1045" y1="1096" x2="1045" y2="1108" stroke="#000" stroke-width="1.5"/>
<text x="892" y="1007" font-size="22">0.5 x 10<tspan font-size="15" dy="-9">6</tspan></text>
<text x="1025" y="1010" font-size="22" font-style="italic">Trans-endothelial migration and</text>
<text x="1025" y="1041" font-size="22" font-style="italic">3D tumor infiltration</text>
<text x="1255" y="1110" font-size="22">12h: Analysis</text>
<text x="1030" y="1142" font-size="20">4h</text>
<text x="1066" y="1130" font-size="17" font-style="italic">Trans well inlay</text>
<text x="1066" y="1153" font-size="17" font-style="italic">removed</text>
</g>

<!-- ===== e charts ===== -->
<text class="b" font-size="21" transform="translate(28,1290) rotate(-90)" text-anchor="middle">T cell / tumor cell ratio</text>
<path class="ax" d="M80 1195 V1378 H365"/>
<g font-size="15" text-anchor="end"><text x="74" y="1213">1.2</text><text x="74" y="1255">0.9</text><text x="74" y="1298">0.6</text><text x="74" y="1340">0.3</text><text x="74" y="1383">0.0</text></g>
<g class="tk"><line x1="75" y1="1208" x2="80" y2="1208"/><line x1="75" y1="1250" x2="80" y2="1250"/><line x1="75" y1="1293" x2="80" y2="1293"/><line x1="75" y1="1335" x2="80" y2="1335"/></g>
<text x="112" y="1207" font-size="20">SK-N-AS</text>
<rect class="bar" x="242" y="1342" width="45" height="36"/>
<rect class="bar" x="310" y="1278" width="45" height="100"/>
<g class="er"><path d="M332 1238 V1318 M324 1238 h16 M324 1318 h16 M252 1342 h26"/></g>
<g stroke="#222" fill="#333"><circle cx="112" cy="1377" r="5"/><circle cx="124" cy="1377" r="5"/><circle cx="182" cy="1377" r="5"/><circle cx="194" cy="1377" r="5"/><circle cx="252" cy="1341" r="5"/><circle cx="264" cy="1338" r="5"/><circle cx="276" cy="1341" r="5"/></g>
<g stroke="#222" fill="#e0b000"><circle cx="332" cy="1228" r="5.5"/><circle cx="348" cy="1216" r="5.5"/><circle cx="320" cy="1243" r="5.5"/><circle cx="332" cy="1280" r="5.5"/><circle cx="320" cy="1290" r="5.5"/><circle cx="344" cy="1292" r="5.5"/><circle cx="332" cy="1328" r="5.5"/></g>
<path class="br" d="M268 1200 v-8 h64 v8"/><text x="294" y="1196" font-size="26" class="b">*</text>
<g font-size="19" text-anchor="middle"><text x="110" y="1410">Unmod-</text><text x="110" y="1433">ified</text><text x="195" y="1410" font-style="italic">RPLP0-</text><text x="195" y="1433">CXCL10</text><text x="276" y="1410">Unmod-</text><text x="276" y="1433">ified</text><text x="355" y="1410" font-style="italic">RPLP0-</text><text x="355" y="1433">CXCL10</text></g>
<path class="br" d="M115 1445 v8 h80 v-8 M265 1445 v8 h85 v-8"/>
<g font-size="18" text-anchor="middle"><text x="155" y="1480">no T cells</text><text x="302" y="1480">+ CAR T cells</text></g>

<path class="ax" d="M435 1195 V1378 H720"/>
<g font-size="15" text-anchor="end"><text x="428" y="1211">4</text><text x="428" y="1254">3</text><text x="428" y="1297">2</text><text x="428" y="1340">1</text><text x="428" y="1383">0</text></g>
<g class="tk"><line x1="430" y1="1205" x2="435" y2="1205"/><line x1="430" y1="1248" x2="435" y2="1248"/><line x1="430" y1="1292" x2="435" y2="1292"/><line x1="430" y1="1335" x2="435" y2="1335"/></g>
<text x="470" y="1207" font-size="20">SK-N-BE2c</text>
<rect class="bar" x="597" y="1366" width="46" height="12"/>
<rect class="dbar" x="668" y="1289" width="46" height="89"/>
<g class="er"><path d="M691 1265 V1314 M683 1265 h16 M683 1314 h16"/></g>
<g stroke="#222" fill="#999"><circle cx="466" cy="1377" r="5"/><circle cx="478" cy="1377" r="5"/><circle cx="538" cy="1377" r="5"/><circle cx="550" cy="1377" r="5"/><circle cx="604" cy="1367" r="5"/><circle cx="614" cy="1363" r="5"/><circle cx="624" cy="1367" r="5"/><circle cx="634" cy="1363" r="5"/><circle cx="640" cy="1367" r="5"/><circle cx="609" cy="1370" r="5"/></g>
<g stroke="#222" fill="#e0b000"><circle cx="682" cy="1230" r="5.5"/><circle cx="702" cy="1225" r="5.5"/><circle cx="690" cy="1248" r="5.5"/><circle cx="692" cy="1276" r="5.5"/><circle cx="680" cy="1318" r="5.5"/><circle cx="702" cy="1318" r="5.5"/></g>
<path class="br" d="M627 1208 v-8 h62 v8"/><text x="643" y="1198" font-size="26" class="b">**</text>
<g font-size="19" text-anchor="middle"><text x="466" y="1415">Unmod-</text><text x="466" y="1438">ified</text><text x="552" y="1415" font-style="italic">CHD1-</text><text x="552" y="1438">CXCL10</text><text x="635" y="1415">Unmod-</text><text x="635" y="1438">ified</text><text x="712" y="1415" font-style="italic">CHD1-</text><text x="712" y="1438">CXCL10</text></g>
<path class="br" d="M470 1445 v8 h82 v-8 M622 1445 v8 h90 v-8"/>
<g font-size="18" text-anchor="middle"><text x="512" y="1480">no T cells</text><text x="653" y="1480">+ CAR T cells</text></g>

<!-- ===== f charts ===== -->
<text class="b" font-size="21" transform="translate(786,1300) rotate(-90)" text-anchor="middle">T cell / tumor cell ratio</text>
<path class="ax" d="M862 1175 V1378 H1085"/>
<g font-size="15" text-anchor="end"><text x="856" y="1223">0.015</text><text x="856" y="1277">0.010</text><text x="856" y="1330">0.005</text><text x="856" y="1384">0.000</text></g>
<g class="tk"><line x1="857" y1="1218" x2="862" y2="1218"/><line x1="857" y1="1271" x2="862" y2="1271"/><line x1="857" y1="1325" x2="862" y2="1325"/></g>
<text x="878" y="1208" font-size="20">SK-N-AS</text>
<rect class="bar" x="884" y="1370" width="46" height="8"/>
<rect class="bar" x="956" y="1337" width="46" height="41"/>
<rect class="bar" x="1026" y="1297" width="46" height="81"/>
<g class="er"><path d="M979 1327 V1347 M971 1327 h16 M971 1347 h16 M1048 1272 V1320 M1040 1272 h16 M1040 1320 h16"/></g>
<g stroke="#222" fill="#888"><circle cx="900" cy="1371" r="5"/><circle cx="918" cy="1367" r="5"/><circle cx="966" cy="1338" r="5.5"/><circle cx="990" cy="1332" r="5.5"/><circle cx="979" cy="1350" r="5.5"/><circle cx="979" cy="1325" r="5.5"/></g>
<g stroke="#222" fill="#e0b000"><circle cx="1048" cy="1260" r="5.5"/><circle cx="1038" cy="1300" r="5.5"/><circle cx="1058" cy="1300" r="5.5"/><circle cx="1048" cy="1314" r="5.5"/></g>
<path class="br" d="M980 1241 v-8 h68 v8"/><text x="1014" y="1236" font-size="26" class="b">*</text>
<g font-size="16" text-anchor="middle"><text x="895" y="1408">Unmodi-</text><text x="895" y="1428">fied</text><text x="895" y="1448">+</text><text x="895" y="1468">Untransduced</text><text x="895" y="1488">T cells</text></g>
<g font-size="19" text-anchor="middle"><text x="980" y="1410">Unmodi-</text><text x="980" y="1433">fied</text><text x="1062" y="1410" font-style="italic">RPLP0-</text><text x="1062" y="1433">CXCL10</text></g>
<path class="br" d="M978 1445 v8 h74 v-8"/><text x="1030" y="1480" font-size="18" text-anchor="middle">+ CAR T cells</text>

<path class="ax" d="M1145 1175 V1378 H1395"/>
<g font-size="15" text-anchor="end"><text x="1138" y="1221">0.3</text><text x="1138" y="1275">0.2</text><text x="1138" y="1329">0.1</text><text x="1138" y="1384">0.0</text></g>
<g class="tk"><line x1="1140" y1="1215" x2="1145" y2="1215"/><line x1="1140" y1="1269" x2="1145" y2="1269"/><line x1="1140" y1="1324" x2="1145" y2="1324"/></g>
<text x="1160" y="1208" font-size="20">SK-N-BE2c</text>
<rect class="bar" x="1170" y="1370" width="46" height="8"/>
<rect class="dbar" x="1254" y="1345" width="46" height="33"/>
<rect class="dbar" x="1338" y="1258" width="46" height="120"/>
<g class="er"><path d="M1277 1337 V1352 M1269 1337 h16 M1361 1240 V1276 M1353 1240 h16 M1353 1276 h16"/></g>
<g stroke="#222" fill="#999"><circle cx="1180" cy="1371" r="5"/><circle cx="1192" cy="1366" r="5"/><circle cx="1206" cy="1370" r="5"/><circle cx="1262" cy="1345" r="5.5"/><circle cx="1274" cy="1348" r="5.5"/><circle cx="1286" cy="1345" r="5.5"/><circle cx="1296" cy="1350" r="5.5"/><circle cx="1280" cy="1323" r="5.5"/><circle cx="1268" cy="1340" r="5.5"/></g>
<g stroke="#222" fill="#e0b000"><circle cx="1362" cy="1211" r="5.5"/><circle cx="1350" cy="1262" r="5.5"/><circle cx="1372" cy="1262" r="5.5"/><circle cx="1362" cy="1298" r="5.5"/></g>
<path class="br" d="M1288 1193 v-8 h70 v8"/><text x="1308" y="1183" font-size="26" class="b">**</text>
<g font-size="16" text-anchor="middle"><text x="1193" y="1406">Unmodi-</text><text x="1193" y="1426">fied</text><text x="1193" y="1446">+</text><text x="1193" y="1466">Untransduced</text><text x="1193" y="1486">T cells</text></g>
<g font-size="19" text-anchor="middle"><text x="1278" y="1408">Unmodi-</text><text x="1278" y="1431">fied</text><text x="1362" y="1408" font-style="italic">CHD1-</text><text x="1362" y="1431">CXCL10</text></g>
<path class="br" d="M1276 1445 v8 h88 v-8"/><text x="1340" y="1480" font-size="18" text-anchor="middle">+ CAR T cells</text>
</svg>
</body></html>
